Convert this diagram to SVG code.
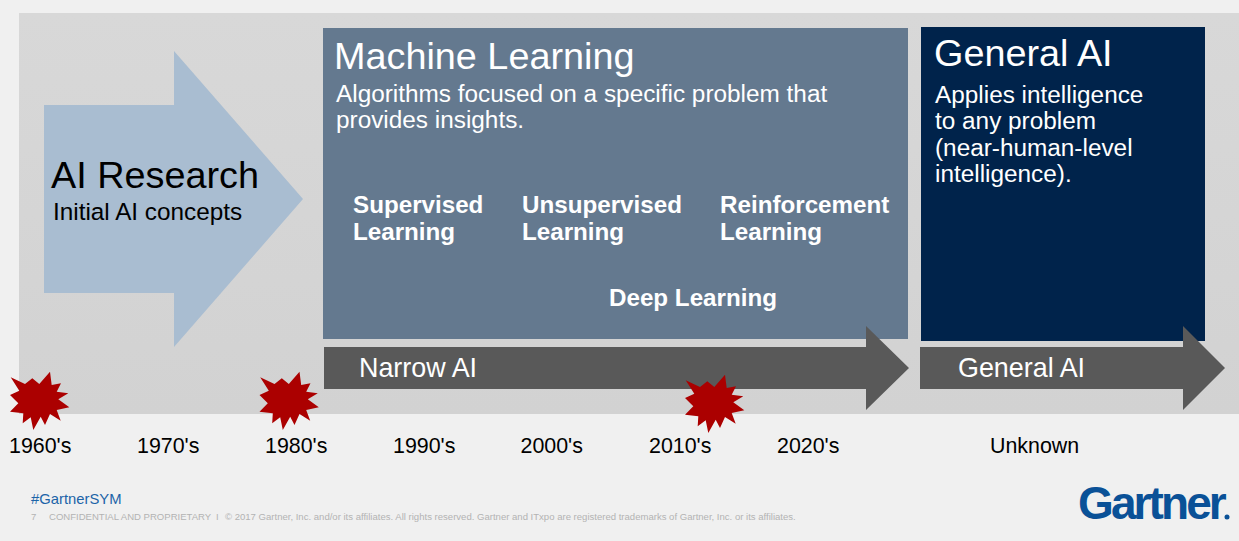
<svg xmlns="http://www.w3.org/2000/svg" width="1239" height="541" viewBox="0 0 1239 541">
<defs>
<polygon id="burst" points="-28.3,-22.7 -14,-16 -6.7,-21.7 0.3,-16 11,-28.3 12.7,-15 22,-16.7 17.7,-8.3 29.3,-6.7 19.3,-0.7 30.3,7.3 17.7,10 21.7,20.7 11,14 6,25 1.7,16.7 -5.7,30 -8.3,17.3 -16.3,23.3 -15.7,13.3 -29,11.7 -20.7,3.3 -29,-5 -19.7,-9.3"/>
<linearGradient id="bandFill" x1="0" y1="0" x2="0" y2="1"><stop offset="0" stop-color="#d8d8d8"/><stop offset="1" stop-color="#d2d2d2"/></linearGradient>
</defs>
<style>
text{font-family:"Liberation Sans",Arial,sans-serif}
.w{fill:#fff}
.h{font-size:37.8px}
.s{font-size:24.35px;fill:#fff}
.bold{font-size:24.2px;font-weight:700;fill:#fff}
.y{font-size:21.4px;fill:#000}
.l{font-size:26.9px;fill:#fff}
.f{font-size:9.55px;fill:#b3b3b3}
</style>
<rect width="1239" height="541" fill="#f0f0f0"/>
<rect id="band" x="19" y="13" width="1220" height="401" fill="url(#bandFill)"/>
<g id="ai-research">
<polygon points="44,105 174,105 174,51 303,199 174,347 174,293 44,293" fill="#a9bdd1"/>
<text x="51" y="188" class="h" fill="#000">AI Research</text>
<text x="53" y="220" font-size="24.3" fill="#000">Initial AI concepts</text>
</g>
<g id="machine-learning">
<rect x="323" y="28" width="585" height="311" fill="#64798f"/>
<text x="334" y="69" class="h w">Machine Learning</text>
<text x="336" y="102" class="s">Algorithms focused on a specific problem that</text>
<text x="336" y="128" class="s">provides insights.</text>
<text x="353" y="213" class="bold">Supervised</text>
<text x="353" y="240" class="bold">Learning</text>
<text x="522" y="213" class="bold">Unsupervised</text>
<text x="522" y="240" class="bold">Learning</text>
<text x="720" y="213" class="bold">Reinforcement</text>
<text x="720" y="240" class="bold">Learning</text>
<text x="609" y="306" class="bold">Deep Learning</text>
</g>
<g id="general-ai">
<rect x="921" y="27" width="284" height="314" fill="#00234b"/>
<text x="934" y="66" class="h w">General AI</text>
<text x="935" y="103" class="s">Applies intelligence</text>
<text x="935" y="129" class="s">to any problem</text>
<text x="935" y="156" class="s">(near-human-level</text>
<text x="935" y="182" class="s">intelligence).</text>
</g>
<g id="connectors">
<polygon id="narrow-arrow" points="324,347 866,347 866,326 909,368 866,410 866,389 324,389" fill="#595959"/>
<polygon id="general-arrow" points="920,347 1183,347 1183,326 1225,368 1183,410 1183,389 920,389" fill="#595959"/>
</g>
<text x="359" y="377" class="l">Narrow AI</text>
<text x="958" y="377" class="l">General AI</text>
<g id="bursts" fill="#ab0000">
<use href="#burst" x="39" y="400"/>
<use href="#burst" x="288.5" y="400"/>
<use href="#burst" x="714" y="403"/>
</g>
<g id="timeline">
<text x="9" y="453" class="y">1960's</text>
<text x="137" y="453" class="y">1970's</text>
<text x="265" y="453" class="y">1980's</text>
<text x="393" y="453" class="y">1990's</text>
<text x="520.5" y="453" class="y">2000's</text>
<text x="649" y="453" class="y">2010's</text>
<text x="777" y="453" class="y">2020's</text>
<text x="990" y="453" class="y">Unknown</text>
</g>
<g id="footer">
<text x="31" y="504" font-size="14.8" fill="#1c64a8">#GartnerSYM</text>
<text x="31" y="520" class="f">7</text>
<text x="49" y="520" class="f">CONFIDENTIAL AND PROPRIETARY</text>
<text x="216" y="520" class="f">I</text>
<text x="225" y="520" class="f">© 2017 Gartner, Inc. and/or its affiliates. All rights reserved. Gartner and ITxpo are registered trademarks of Gartner, Inc. or its affiliates.</text>
<text x="1078" y="519" font-size="46" font-weight="700" fill="#0a5197" letter-spacing="-2.9">Gartner</text>
<circle cx="1227" cy="517" r="2.5" fill="#0a5197"/>
</g>
</svg>
